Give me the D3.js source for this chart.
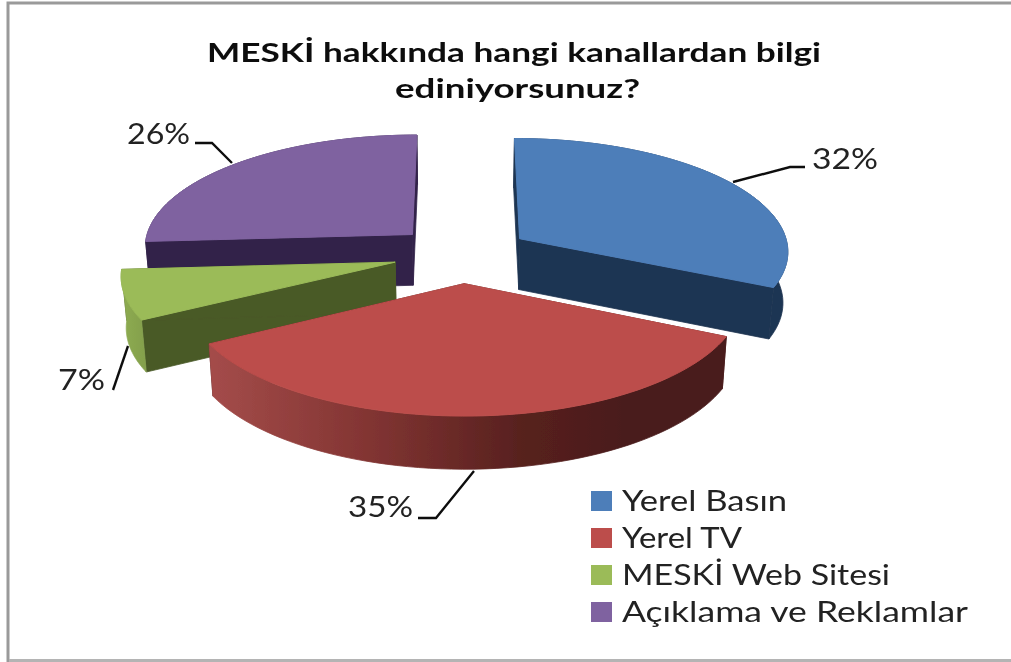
<!DOCTYPE html>
<html><head><meta charset="utf-8">
<script src="https://cdn.jsdelivr.net/npm/d3@7"></script>
<style>html,body{margin:0;padding:0;background:#fff}svg{display:block}</style>
</head><body><svg id="c" width="1011" height="662"></svg>
<script>
const categories = ["Yerel Basın", "Yerel TV", "MESKİ Web Sitesi", "Açıklama ve Reklamlar"];
const values = [32, 35, 7, 26];
const valueLabels = ["32%", "35%", "7%", "26%"];
const topColors = ["#4d7eb9", "#bc4e4b", "#9bbb59", "#7f62a0"];
const wallColors = ["#1f3552", "#4a1c1c", "#4a5a28", "#33244a"];
const titleLines = ["MESKİ hakkında hangi kanallardan bilgi", "ediniyorsunuz?"];

const W = 1011, H = 662;
const svg = d3.select("#c");
const defs = svg.append("defs");
defs.append("filter").attr("id","soft").attr("x","-5%").attr("y","-5%").attr("width","110%").attr("height","110%")
  .append("feGaussianBlur").attr("stdDeviation",0.6);
const grad = defs.append("linearGradient").attr("id","redWall")
  .attr("gradientUnits","userSpaceOnUse").attr("x1",210).attr("x2",725).attr("y1",0).attr("y2",0);
[[0,"#a44c4a"],[0.3,"#833533"],[0.6,"#58211f"],[0.8,"#4a1c1c"],[1,"#4a1c1c"]]
  .forEach(([o,c])=>grad.append("stop").attr("offset",o).attr("stop-color",c));
const gradG = defs.append("linearGradient").attr("id","greenWall")
  .attr("gradientUnits","userSpaceOnUse").attr("x1",119).attr("x2",144).attr("y1",0).attr("y2",0);
gradG.append("stop").attr("offset",0).attr("stop-color","#8fae52");
gradG.append("stop").attr("offset",1).attr("stop-color","#84a04c");

svg.append("rect").attr("width",W).attr("height",H).attr("fill","#fff");

// perspective pie model
const k = 0.099, explode = 0.256, wallH = 51, bottomShrink = 0.985;
const sx = d3.scaleLinear().domain([0,1]).range([462,732]);
const sy = d3.scaleLinear().domain([0,1]).range([254,367]);
const project = (u,v,z) => {
  const s = 1/(1-k*v);
  const zs = z ? bottomShrink : 1;
  return [sx(u*s*zs), sy(v*s) + (z ? wallH*(1+0.3*(s-1)) : 0)];
};
const pie = d3.pie().sort(null)(values);
const sliceGeom = pie.map(d => {
  const mid = (d.startAngle+d.endAngle)/2;
  const ou = explode*Math.sin(mid), ov = -explode*Math.cos(mid);
  const rim = d3.range(0,61).map(i => d.startAngle+(d.endAngle-d.startAngle)*i/60);
  const at = (a,z) => project(ou+Math.sin(a), ov-Math.cos(a), z);
  return {ou,ov,rim,at,apex:z=>project(ou,ov,z)};
});
const path = d3.line();
const marks = svg.append("g").attr("filter","url(#soft)");
const drawOrder = [3,0,2,1];
drawOrder.forEach(i => {
  const g = sliceGeom[i], d = pie[i];
  const g0 = marks.append("g");
  const wallFill = i===1 ? "url(#redWall)" : i===2 ? "url(#greenWall)" : wallColors[i];
  // start and end radial faces
  g0.append("path").attr("fill",wallColors[i]).attr("stroke",wallColors[i]).attr("stroke-width",0.8)
    .attr("d",path([g.apex(0),g.at(d.startAngle,0),g.at(d.startAngle,1),g.apex(1)])+"Z");
  g0.append("path").attr("fill",wallColors[i]).attr("stroke",wallColors[i]).attr("stroke-width",0.8)
    .attr("d",path([g.apex(0),g.at(d.endAngle,0),g.at(d.endAngle,1),g.apex(1)])+"Z");
  // outer wall
  const wall = g.rim.map(a=>g.at(a,0)).concat(g.rim.slice().reverse().map(a=>g.at(a,1)));
  g0.append("path").attr("fill",wallFill).attr("stroke",wallFill).attr("stroke-width",0.8).attr("d",path(wall)+"Z");
  // top
  const top = [g.apex(0)].concat(g.rim.map(a=>g.at(a,0)));
  g0.append("path").attr("fill",topColors[i]).attr("stroke",topColors[i]).attr("stroke-width",1).attr("d",path(top)+"Z");
});

// leader lines
const leaders = [
  [[733,182],[790,167],[805,167]],
  [[418,518],[436,518],[474,471]],
  [[113,390],[128,346]],
  [[195,143],[212,143],[232,163]]
];
marks.selectAll("path.leader").data(leaders).join("path").attr("class","leader")
  .attr("fill","none").attr("stroke","#111").attr("stroke-width",2.4)
  .attr("d",d=>path(d));

const font = "Lato,'Open Sans','DejaVu Sans',sans-serif";
const text = svg.append("g").attr("filter","url(#soft)").attr("font-family",font).attr("fill","#222");
// title
text.selectAll("text.t").data(titleLines).join("text").attr("class","t")
  .attr("x",(d,i)=>i?517.5:514).attr("y",(d,i)=>i?98:62).attr("fill","#111")
  .attr("text-anchor","middle").attr("font-weight",700).attr("font-size",26)
  .attr("textLength",(d,i)=>i?245:614).attr("lengthAdjust","spacingAndGlyphs")
  .text(d=>d);
// value labels
const labelPos = [[812,169,66],[348,517,65],[58,390,47],[127,144,63]];
text.selectAll("text.v").data(valueLabels).join("text").attr("class","v")
  .attr("x",(d,i)=>labelPos[i][0]).attr("y",(d,i)=>labelPos[i][1])
  .attr("font-size",29).attr("textLength",(d,i)=>labelPos[i][2]).attr("lengthAdjust","spacingAndGlyphs")
  .text(d=>d);
// legend
const rowY = d3.scaleLinear().domain([0,3]).range([491,602]);
const legendLen = [165,120,268,346];
const lg = svg.append("g").attr("filter","url(#soft)");
categories.forEach((c,i)=>{
  lg.append("rect").attr("x",591).attr("y",rowY(i)).attr("width",21).attr("height",20).attr("fill",topColors[i]);
  lg.append("text").attr("x",622).attr("y",rowY(i)+19.5).attr("font-family",font).attr("font-size",28).attr("fill","#222")
    .attr("textLength",legendLen[i]).attr("lengthAdjust","spacingAndGlyphs").text(c);
});
// frame
svg.append("path").attr("fill","none").attr("stroke","#9a9a9a").attr("stroke-width",3)
  .attr("d","M1011,3H8V662");
svg.append("path").attr("fill","none").attr("stroke","#b4b4b4").attr("stroke-width",3)
  .attr("d","M9,660.5H1011");
</script></body></html>
